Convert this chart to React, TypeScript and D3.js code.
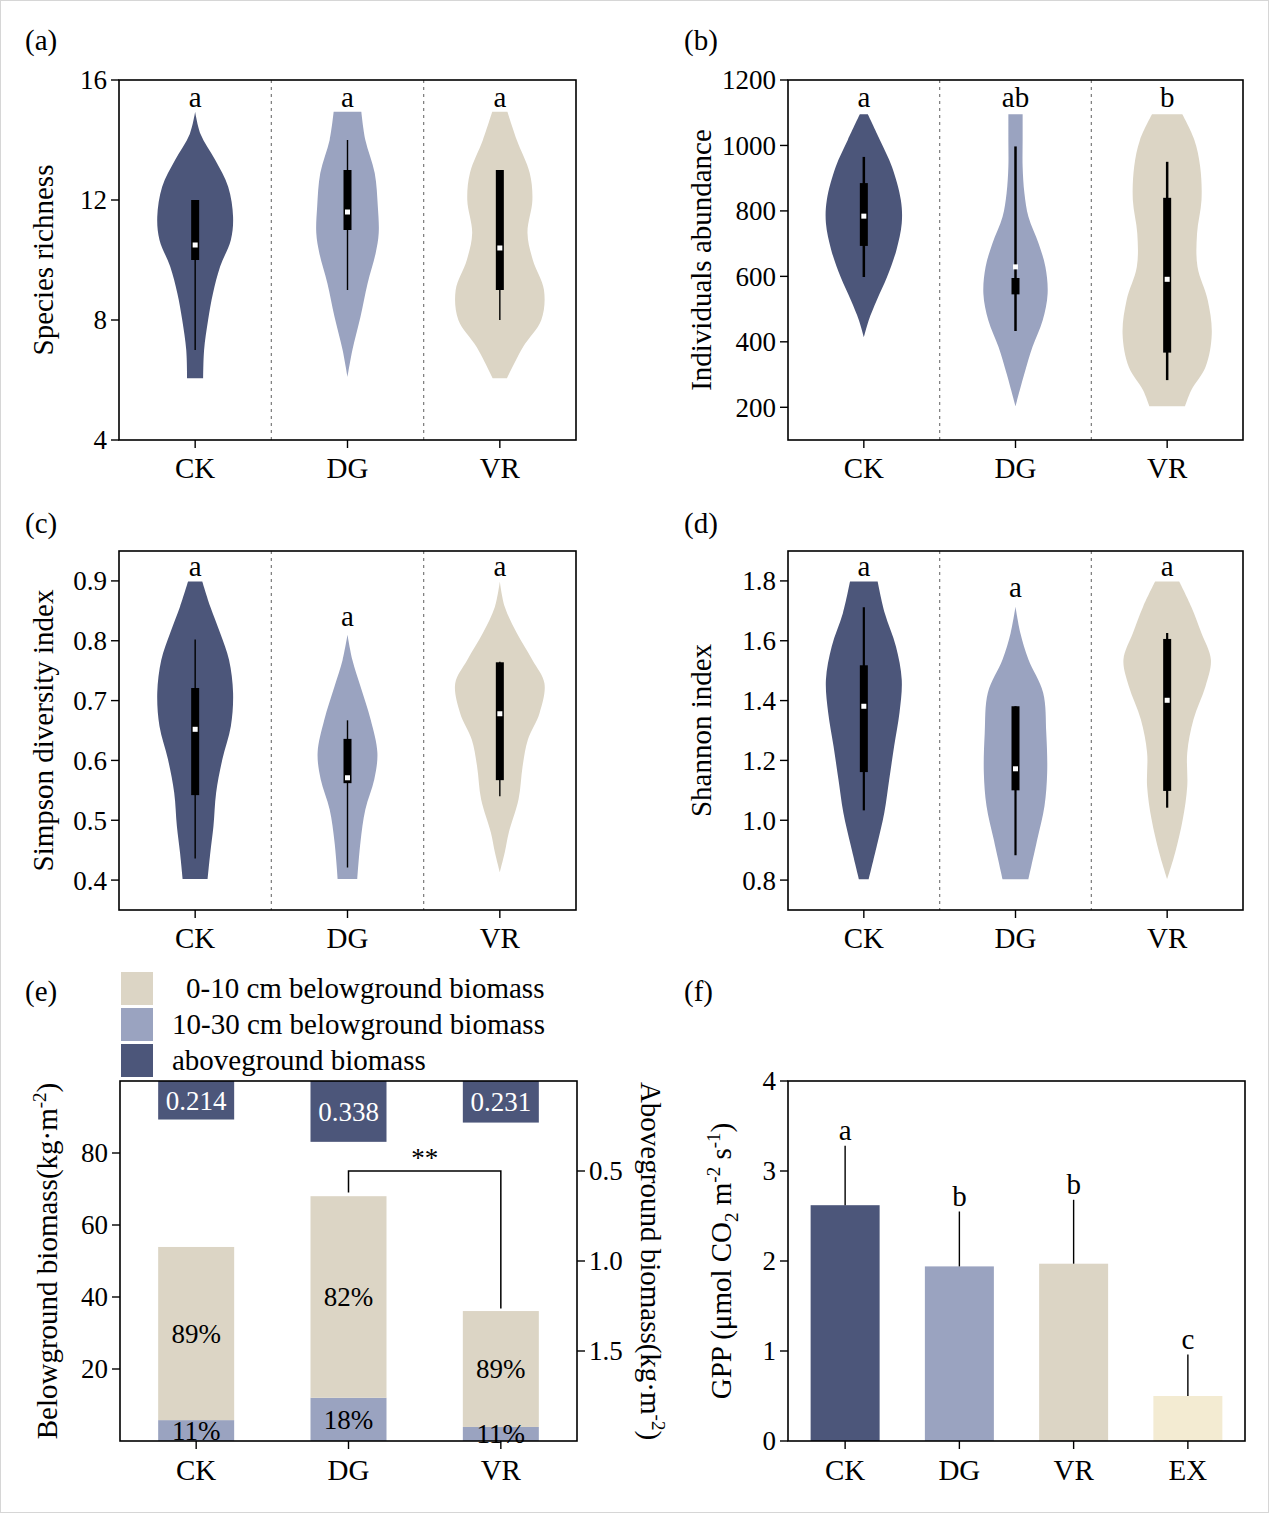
import React from 'react';
import * as d3 from 'd3';

const FONT = '"Liberation Serif", "Times New Roman", Times, serif';

const categories = ['CK', 'DG', 'VR'];
const groupColors = ['#4c567a', '#9aa3c0', '#dcd5c5'];

// ---------- (a) Species richness ----------
const richnessTicks = [4, 8, 12, 16];
const richnessCK = [[14.94, 0], [14.2, 0.12], [13.33, 0.45], [12.44, 0.74], [11.43, 0.85], [10.67, 0.8], [9.78, 0.56], [8.89, 0.4], [8, 0.29], [7, 0.2], [6.06, 0.18]];
const richnessDG = [[14.94, 0.31], [14, 0.4], [12.9, 0.61], [11.78, 0.68], [10.9, 0.7], [10.22, 0.63], [9.22, 0.45], [8.1, 0.29], [7, 0.11], [6.1, 0]];
const richnessVR = [[14.94, 0.17], [14, 0.38], [12.9, 0.67], [12, 0.73], [10.9, 0.62], [10, 0.74], [9, 0.99], [8, 0.93], [7.1, 0.52], [6.06, 0.16]];
// [lower whisker, q1, median, q3, upper whisker]
const richnessStats = [[7, 10, 10.5, 12, 12], [9, 11, 11.6, 13, 14], [8, 9, 10.4, 13, 13]];
const richnessLetters = ['a', 'a', 'a'];
const richnessLetterAt = [15.1, 15.1, 15.1];

// ---------- (b) Individuals abundance ----------
const abundanceTicks = [200, 400, 600, 800, 1000, 1200];
const abundanceCK = [[1095, 0.09], [1017, 0.36], [935, 0.63], [833, 0.83], [762, 0.85], [680, 0.73], [598, 0.52], [527, 0.29], [466, 0.11], [414, 0]];
const abundanceDG = [[1095, 0.16], [1017, 0.16], [935, 0.16], [854, 0.2], [782, 0.29], [700, 0.52], [629, 0.67], [547, 0.72], [466, 0.61], [384, 0.38], [303, 0.2], [203, 0]];
const abundanceVR = [[1095, 0.34], [1017, 0.61], [935, 0.74], [833, 0.77], [731, 0.67], [629, 0.68], [527, 0.91], [425, 1.0], [323, 0.86], [252, 0.54], [203, 0.4]];
const abundanceStats = [[598, 693, 784, 885, 965], [433, 545, 629, 595, 997], [283, 367, 591, 840, 950]];
const abundanceLetters = ['a', 'ab', 'b'];
const abundanceLetterAt = [1117, 1117, 1117];

// ---------- (c) Simpson diversity ----------
const simpsonTicks = [0.4, 0.5, 0.6, 0.7, 0.8, 0.9];
const simpsonCK = [[0.899, 0.16], [0.857, 0.34], [0.813, 0.56], [0.768, 0.76], [0.713, 0.85], [0.657, 0.8], [0.602, 0.61], [0.546, 0.47], [0.49, 0.41], [0.446, 0.34], [0.402, 0.28]];
const simpsonDG = [[0.81, 0], [0.768, 0.11], [0.724, 0.29], [0.668, 0.52], [0.613, 0.67], [0.568, 0.6], [0.518, 0.4], [0.463, 0.29], [0.402, 0.22]];
const simpsonVR = [[0.899, 0], [0.857, 0.11], [0.813, 0.38], [0.768, 0.73], [0.729, 1.0], [0.679, 0.89], [0.635, 0.63], [0.59, 0.51], [0.535, 0.42], [0.479, 0.2], [0.446, 0.11], [0.413, 0]];
const simpsonStats = [[0.436, 0.542, 0.652, 0.721, 0.802], [0.421, 0.562, 0.571, 0.636, 0.667], [0.54, 0.567, 0.678, 0.764, 0.765]];
const simpsonLetters = ['a', 'a', 'a'];
const simpsonLetterAt = [0.908, 0.825, 0.908];

// ---------- (d) Shannon index ----------
const shannonTicks = [0.8, 1.0, 1.2, 1.4, 1.6, 1.8];
const shannonCK = [[1.798, 0.31], [1.692, 0.47], [1.581, 0.72], [1.47, 0.85], [1.36, 0.8], [1.248, 0.68], [1.137, 0.57], [1.026, 0.46], [0.914, 0.29], [0.803, 0.11]];
const shannonDG = [[1.714, 0], [1.625, 0.11], [1.537, 0.29], [1.426, 0.62], [1.292, 0.69], [1.159, 0.71], [1.048, 0.65], [0.937, 0.49], [0.803, 0.29]];
const shannonVR = [[1.798, 0.27], [1.714, 0.54], [1.625, 0.77], [1.537, 0.98], [1.448, 0.86], [1.337, 0.59], [1.226, 0.45], [1.114, 0.45], [1.003, 0.35], [0.892, 0.18], [0.803, 0]];
const shannonStats = [[1.033, 1.161, 1.381, 1.518, 1.712], [0.883, 1.1, 1.172, 1.381, 1.381], [1.042, 1.098, 1.401, 1.606, 1.626]];
const shannonLetters = ['a', 'a', 'a'];
const shannonLetterAt = [1.817, 1.747, 1.817];

// ---------- (e) Biomass ----------
const belowTicks = [20, 40, 60, 80];
const aboveTicks = [0.5, 1.0, 1.5];
const below10to30 = [5.8, 12.0, 3.9];
const below0to10 = [48.1, 56.0, 32.2];
const aboveground = [0.214, 0.338, 0.231];
const legendLabels = ['0-10 cm belowground biomass', '10-30 cm belowground biomass', 'aboveground biomass'];
const bracketLevel = 75;

// ---------- (f) GPP ----------
const gppCategories = ['CK', 'DG', 'VR', 'EX'];
const gppColors = ['#4c567a', '#9aa3c0', '#dcd5c5', '#f3ebd2'];
const gppTicks = [0, 1, 2, 3, 4];
const gppMean = [2.62, 1.94, 1.97, 0.5];
const gppErr = [0.66, 0.61, 0.71, 0.46];
const gppLetters = ['a', 'b', 'b', 'c'];

type Frame = { l: number; r: number; t: number; b: number };

function ViolinPanel(props: {
  frame: Frame; domain: [number, number]; ticks: number[]; fmt: (v: number) => string;
  shapes: number[][][]; stats: number[][]; letters: string[]; letterAt: number[];
  whisker: number; title: string; titleX: number; tag: string; tagX: number; tagY: number;
}) {
  const { frame: f, domain, ticks, fmt, shapes, stats, letters, letterAt, whisker, title, titleX, tag, tagX, tagY } = props;
  const y = d3.scaleLinear().domain(domain).range([f.b, f.t]);
  const x = d3.scaleBand().domain(categories).range([f.l, f.r]);
  const w = d3.scaleLinear().domain([0, 1]).range([0, 44.6]);
  const cx = (c: string) => (x(c) as number) + x.bandwidth() / 2;
  return (
    <g>
      <text x={tagX} y={tagY} fontSize={29}>{tag}</text>
      {categories.slice(1).map(c => (
        <line key={c} x1={x(c)} x2={x(c)} y1={f.t} y2={f.b} stroke="#7a7a7a" strokeWidth={1.2} strokeDasharray="3,4" />
      ))}
      {categories.map((c, i) => {
        const center = cx(c);
        const area = d3.area<number[]>()
          .y(d => y(d[0]))
          .x0(d => center - w(d[1]))
          .x1(d => center + w(d[1]))
          .curve(d3.curveCatmullRom.alpha(0.5));
        const s = stats[i];
        const q1 = Math.min(s[1], s[3]);
        const q3 = Math.max(s[1], s[3]);
        return (
          <g key={c}>
            <path d={area(shapes[i]) || ''} fill={groupColors[i]} />
            <line x1={center} x2={center} y1={y(s[0])} y2={y(s[4])} stroke="#000" strokeWidth={whisker} />
            <rect x={center - 4} width={8} y={y(q3)} height={y(q1) - y(q3)} fill="#000" />
            <rect x={center - 2.5} width={5} y={y(s[2]) - 2.5} height={5} fill="#fff" />
            <text x={center} y={y(letterAt[i])} fontSize={29} textAnchor="middle">{letters[i]}</text>
          </g>
        );
      })}
      <rect x={f.l} y={f.t} width={f.r - f.l} height={f.b - f.t} fill="none" stroke="#000" strokeWidth={1.6} />
      {ticks.map(t => (
        <g key={t}>
          <line x1={f.l - 8} x2={f.l} y1={y(t)} y2={y(t)} stroke="#000" strokeWidth={1.4} />
          <text x={f.l - 12} y={y(t)} dy="0.35em" fontSize={27} textAnchor="end">{fmt(t)}</text>
        </g>
      ))}
      {categories.map(c => (
        <g key={c}>
          <line x1={cx(c)} x2={cx(c)} y1={f.b} y2={f.b + 8} stroke="#000" strokeWidth={1.4} />
          <text x={cx(c)} y={f.b + 38} fontSize={29} textAnchor="middle">{c}</text>
        </g>
      ))}
      <text transform={`translate(${titleX},${(f.t + f.b) / 2}) rotate(-90)`} dy="0.35em" fontSize={29} textAnchor="middle">{title}</text>
    </g>
  );
}

function BiomassPanel() {
  const f: Frame = { l: 120, r: 577, t: 1081, b: 1441 };
  const yL = d3.scaleLinear().domain([0, 100]).range([f.b, f.t]);
  const yR = d3.scaleLinear().domain([0, 2]).range([f.t, f.b]);
  const x = d3.scaleBand().domain(categories).range([f.l, f.r]);
  const cx = (c: string) => (x(c) as number) + x.bandwidth() / 2;
  const barW = 76;
  const pct = d3.format('.0%');
  const legendColors = [groupColors[2], groupColors[1], groupColors[0]];
  const totals = categories.map((_, i) => below10to30[i] + below0to10[i]);
  const dg = cx('DG');
  const vr = cx('VR');
  return (
    <g>
      <text x={25} y={1001} fontSize={29}>(e)</text>
      {legendLabels.map((lab, i) => (
        <g key={lab}>
          <rect x={121} y={972 + i * 36} width={32} height={33} fill={legendColors[i]} />
          <text x={i === 0 ? 186 : 172} y={998 + i * 36} fontSize={29}>{lab}</text>
        </g>
      ))}
      {categories.map((c, i) => {
        const center = cx(c);
        const tot = totals[i];
        return (
          <g key={c}>
            <rect x={center - barW / 2} width={barW} y={yL(below10to30[i])} height={yL(0) - yL(below10to30[i])} fill={groupColors[1]} />
            <rect x={center - barW / 2} width={barW} y={yL(tot)} height={yL(below10to30[i]) - yL(tot)} fill={groupColors[2]} />
            <text x={center} y={(yL(tot) + yL(below10to30[i])) / 2} dy="0.35em" fontSize={27} textAnchor="middle">{pct(below0to10[i] / tot)}</text>
            <text x={center} y={(yL(below10to30[i]) + yL(0)) / 2} dy="0.35em" fontSize={27} textAnchor="middle">{pct(below10to30[i] / tot)}</text>
            <rect x={center - barW / 2} width={barW} y={yR(0)} height={yR(aboveground[i]) - yR(0)} fill={groupColors[0]} />
            <text x={center} y={(yR(0) + yR(aboveground[i])) / 2} dy="0.35em" fontSize={27} fill="#fff" textAnchor="middle">{aboveground[i].toFixed(3)}</text>
          </g>
        );
      })}
      <path d={`M${dg},${yL(totals[1] + 1)}V${yL(bracketLevel)}H${vr}V${yL(totals[2] + 0.7)}`} fill="none" stroke="#000" strokeWidth={1.5} />
      <text x={(dg + vr) / 2} y={yL(bracketLevel) - 4} fontSize={27} textAnchor="middle">**</text>
      <rect x={f.l} y={f.t} width={f.r - f.l} height={f.b - f.t} fill="none" stroke="#000" strokeWidth={1.6} />
      {belowTicks.map(t => (
        <g key={t}>
          <line x1={f.l - 8} x2={f.l} y1={yL(t)} y2={yL(t)} stroke="#000" strokeWidth={1.4} />
          <text x={f.l - 12} y={yL(t)} dy="0.35em" fontSize={27} textAnchor="end">{t}</text>
        </g>
      ))}
      {aboveTicks.map(t => (
        <g key={t}>
          <line x1={f.r} x2={f.r + 8} y1={yR(t)} y2={yR(t)} stroke="#000" strokeWidth={1.4} />
          <text x={f.r + 12} y={yR(t)} dy="0.35em" fontSize={27} textAnchor="start">{t.toFixed(1)}</text>
        </g>
      ))}
      {categories.map(c => (
        <g key={c}>
          <line x1={cx(c)} x2={cx(c)} y1={f.b} y2={f.b + 8} stroke="#000" strokeWidth={1.4} />
          <text x={cx(c)} y={f.b + 39} fontSize={29} textAnchor="middle">{c}</text>
        </g>
      ))}
      <text transform={`translate(47,${(f.t + f.b) / 2}) rotate(-90)`} dy="0.35em" fontSize={29} textAnchor="middle">
        Belowground biomass(kg·m<tspan dy={-11} fontSize={19}>-2</tspan><tspan dy={11}>)</tspan>
      </text>
      <text transform={`translate(651,${(f.t + f.b) / 2}) rotate(90)`} dy="0.35em" fontSize={29} textAnchor="middle">
        Aboveground biomass(kg·m<tspan dy={-11} fontSize={19}>-2</tspan><tspan dy={11}>)</tspan>
      </text>
    </g>
  );
}

function GppPanel() {
  const f: Frame = { l: 788, r: 1245, t: 1081, b: 1441 };
  const y = d3.scaleLinear().domain([0, 4]).range([f.b, f.t]);
  const x = d3.scaleBand().domain(gppCategories).range([f.l, f.r]);
  const cx = (c: string) => (x(c) as number) + x.bandwidth() / 2;
  const barW = 69;
  return (
    <g>
      <text x={684} y={1001} fontSize={29}>(f)</text>
      {gppCategories.map((c, i) => {
        const center = cx(c);
        const top = y(gppMean[i] + gppErr[i]);
        return (
          <g key={c}>
            <rect x={center - barW / 2} width={barW} y={y(gppMean[i])} height={y(0) - y(gppMean[i])} fill={gppColors[i]} />
            <line x1={center} x2={center} y1={y(gppMean[i])} y2={top} stroke="#000" strokeWidth={1.4} />
            <text x={center} y={top - 6} fontSize={29} textAnchor="middle">{gppLetters[i]}</text>
          </g>
        );
      })}
      <rect x={f.l} y={f.t} width={f.r - f.l} height={f.b - f.t} fill="none" stroke="#000" strokeWidth={1.6} />
      {gppTicks.map(t => (
        <g key={t}>
          <line x1={f.l - 8} x2={f.l} y1={y(t)} y2={y(t)} stroke="#000" strokeWidth={1.4} />
          <text x={f.l - 12} y={y(t)} dy="0.35em" fontSize={27} textAnchor="end">{t}</text>
        </g>
      ))}
      {gppCategories.map(c => (
        <g key={c}>
          <line x1={cx(c)} x2={cx(c)} y1={f.b} y2={f.b + 8} stroke="#000" strokeWidth={1.4} />
          <text x={cx(c)} y={f.b + 39} fontSize={29} textAnchor="middle">{c}</text>
        </g>
      ))}
      <text transform={`translate(721,${(f.t + f.b) / 2}) rotate(-90)`} dy="0.35em" fontSize={29} textAnchor="middle">
        GPP (μmol CO<tspan dy={7} fontSize={19}>2</tspan><tspan dy={-7}> m</tspan><tspan dy={-11} fontSize={19}>-2</tspan><tspan dy={11}> s</tspan><tspan dy={-11} fontSize={19}>-1</tspan><tspan dy={11}>)</tspan>
      </text>
    </g>
  );
}

export default function App() {
  const f1 = d3.format('.1f');
  return (
    <svg width={1272} height={1515} style={{ position: 'absolute', left: 0, top: 0, display: 'block' }} fontFamily={FONT}>
      <rect x={0} y={0} width={1272} height={1515} fill="#fff" />
      <rect x={0.5} y={0.5} width={1268} height={1512} fill="none" stroke="#d6d6d6" />
      <ViolinPanel frame={{ l: 119, r: 576, t: 80, b: 440 }} domain={[4, 16]} ticks={richnessTicks} fmt={v => String(v)}
        shapes={[richnessCK, richnessDG, richnessVR]} stats={richnessStats} letters={richnessLetters} letterAt={richnessLetterAt}
        whisker={1.4} title="Species richness" titleX={43} tag="(a)" tagX={25} tagY={50} />
      <ViolinPanel frame={{ l: 788, r: 1243, t: 80, b: 440 }} domain={[100, 1200]} ticks={abundanceTicks} fmt={v => String(v)}
        shapes={[abundanceCK, abundanceDG, abundanceVR]} stats={abundanceStats} letters={abundanceLetters} letterAt={abundanceLetterAt}
        whisker={2.5} title="Individuals abundance" titleX={701} tag="(b)" tagX={684} tagY={50} />
      <ViolinPanel frame={{ l: 119, r: 576, t: 551, b: 910 }} domain={[0.35, 0.95]} ticks={simpsonTicks} fmt={f1}
        shapes={[simpsonCK, simpsonDG, simpsonVR]} stats={simpsonStats} letters={simpsonLetters} letterAt={simpsonLetterAt}
        whisker={1.4} title="Simpson diversity index" titleX={43} tag="(c)" tagX={25} tagY={533} />
      <ViolinPanel frame={{ l: 788, r: 1243, t: 551, b: 910 }} domain={[0.7, 1.9]} ticks={shannonTicks} fmt={f1}
        shapes={[shannonCK, shannonDG, shannonVR]} stats={shannonStats} letters={shannonLetters} letterAt={shannonLetterAt}
        whisker={2.2} title="Shannon index" titleX={701} tag="(d)" tagX={684} tagY={533} />
      <BiomassPanel />
      <GppPanel />
    </svg>
  );
}
